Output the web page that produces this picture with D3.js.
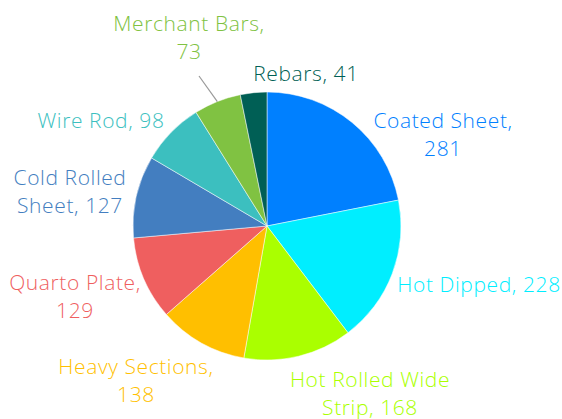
<!DOCTYPE html>
<html><head><meta charset="utf-8">
<script src="https://cdn.jsdelivr.net/npm/d3@7"></script>
<style>body{margin:0;background:#fff}svg{display:block}text{font-family:"Open Sans",Roboto,sans-serif;font-weight:300;letter-spacing:0.6px}</style>
</head><body>
<svg id="c" width="562" height="419"></svg>
<script>
const categories = ["Coated Sheet","Hot Dipped","Hot Rolled Wide Strip","Heavy Sections","Quarto Plate","Cold Rolled Sheet","Wire Rod","Merchant Bars","Rebars"];
const values = [281,228,168,138,129,127,98,73,41];
const colors = ["#0080ff","#00eeff","#aaff00","#ffbf00","#ef5f5f","#437ec0","#3cbfbf","#80c242","#005f55"];
// label lines (how each label wraps)
const labelLines = [["Coated Sheet,","281"],["Hot Dipped, 228"],["Hot Rolled Wide","Strip, 168"],["Heavy Sections,","138"],["Quarto Plate,","129"],["Cold Rolled","Sheet, 127"],["Wire Rod, 98"],["Merchant Bars,","73"],["Rebars, 41"]];
// label anchor: x center, baseline of first line
const labelPos = [[443,128],[479,292],[370,387],[136,374],[75,290],[70,185],[101,128],[189,31],[306,81]];

const svg = d3.select("#c");
const cx = 267, cy = 226, r = 134;
const data = categories.map((c,i)=>({cat:c,val:values[i],color:colors[i]}));
const pie = d3.pie().value(d=>d.val).sort(null);
const arc = d3.arc().innerRadius(0).outerRadius(r);
const g = svg.append("g").attr("transform",`translate(${cx},${cy})`);
const arcs = pie(data);
g.selectAll("path").data(arcs).join("path")
  .attr("d",arc).attr("fill",d=>d.data.color)
  .attr("stroke","#fff").attr("stroke-width",0.5).attr("stroke-linejoin","round");

// connector for Merchant Bars
const mb = arcs[7];
const ma = (mb.startAngle+mb.endAngle)/2;
const p0 = [Math.sin(ma)*r, -Math.cos(ma)*r];
svg.append("path")
  .attr("d",`M${labelPos[7][0]+10},${labelPos[7][1]+45}L${cx+p0[0]},${cy+p0[1]}`)
  .attr("stroke","#999").attr("stroke-width",1.2).attr("fill","none");

const lh = 28;
data.forEach((d,i)=>{
  const t = svg.append("text").attr("text-anchor","middle")
    .attr("x",labelPos[i][0]).attr("y",labelPos[i][1])
    .attr("fill",d.color).style("font-size","21px");
  labelLines[i].forEach((ln,j)=>{
    t.append("tspan").attr("x",labelPos[i][0]).attr("dy",j===0?0:lh).text(ln);
  });
});
</script>
</body></html>
